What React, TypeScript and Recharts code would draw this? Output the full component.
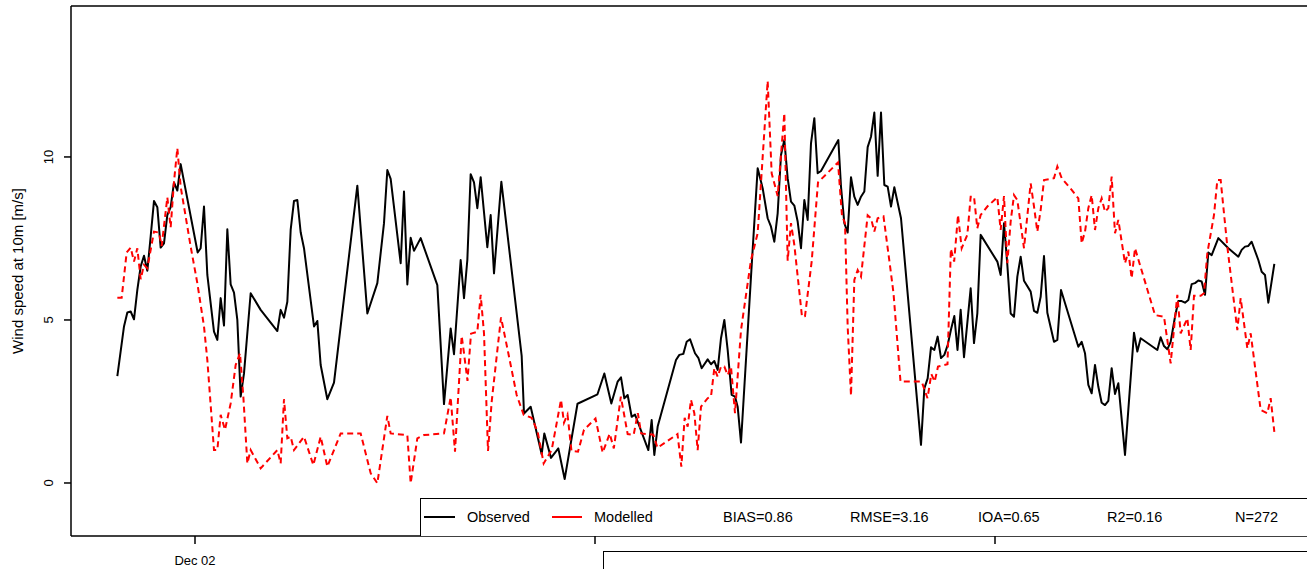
import { LineChart, Line, XAxis, YAxis, ReferenceLine } from 'recharts';

// hours after Dec 02 00:00 and wind speed (m/s)
const OBS_T = [
  -4.66, -4.26, -4.06, -3.86, -3.66, -3.46, -3.26, -3.06, -2.86, -2.66, -2.46, -2.26, -2.06, -1.86, -1.66, -1.46, -1.26, -1.06, -0.86,
  0.16, 0.34, 0.54, 0.74, 1.14, 1.34, 1.54, 1.74, 1.94, 2.14, 2.34, 2.54, 2.74, 2.94, 3.34, 3.94, 4.94, 5.14, 5.34, 5.54, 5.74, 5.94,
  6.14, 6.34, 6.54, 7.14, 7.34, 7.54, 7.94, 8.34, 9.74, 10.34, 10.94, 11.34, 11.54, 11.74, 12.34, 12.54, 12.74, 12.94, 13.14, 13.54,
  14.54, 14.94, 15.34, 15.54, 15.94, 16.14, 16.34, 16.54, 16.74, 16.94, 17.14, 17.54, 17.74, 17.94, 18.38, 19.6, 19.74, 20.14, 20.8,
  20.96, 21.36, 21.8, 22.18, 22.95, 24.15, 24.56, 24.98, 25.36, 25.56, 25.76, 25.96, 26.2, 26.4, 27.2, 27.4, 27.56, 27.76, 28.86,
  29.06, 29.3, 29.5, 29.7, 30.0, 30.2, 30.4, 30.76, 30.96, 31.16, 31.36, 31.56, 31.76, 31.96, 32.2, 32.4, 32.56, 32.76, 33.36, 33.76,
  34.06, 34.36, 34.56, 34.76, 34.96, 35.16, 35.36, 35.56, 35.76, 35.96, 36.16, 36.36, 36.56, 36.76, 36.96, 37.16, 37.36, 37.56, 38.6,
  38.76, 38.96, 39.16, 39.36, 39.56, 39.76, 39.96, 40.16, 40.36, 40.56, 40.76, 40.96, 41.16, 41.36, 41.56, 41.76, 41.96, 42.36, 43.56,
  43.76, 43.96, 44.16, 44.36, 44.56, 44.76, 44.96, 45.16, 45.36, 45.56, 45.75, 45.94, 46.14, 46.54, 46.74, 46.94, 47.14, 48.14, 48.34,
  48.54, 48.74, 48.94, 49.14, 49.34, 49.54, 49.74, 50.14, 50.34, 50.54, 50.74, 50.94, 51.14, 51.54, 51.74, 51.96, 53.0, 53.2, 53.4,
  53.6, 53.8, 54.0, 54.2, 54.4, 54.6, 54.8, 55.0, 55.2, 55.4, 55.8, 56.34, 56.54, 56.74, 57.74, 57.94, 58.14, 58.34, 58.54, 58.8, 59.0,
  59.2, 59.4, 59.6, 59.8, 60.0, 60.2, 60.4, 60.6, 60.8, 61.0, 61.4, 62.0, 62.6, 62.8, 63.0, 63.2, 63.4, 63.8, 64.0, 64.2, 64.4, 64.76,
];
const OBS_V = [
  3.28, 4.8, 5.23, 5.26, 5.02, 5.92, 6.64, 6.97, 6.51, 7.56, 8.65, 8.46, 7.22, 7.35, 8.22, 8.46, 9.22, 8.97, 9.78,
  7.07, 7.2, 8.48, 6.38, 4.64, 4.39, 5.67, 4.83, 7.78, 6.09, 5.84, 5.0, 2.65, 3.36, 5.82, 5.31, 4.66, 5.31, 5.07, 5.56, 7.76, 8.65,
  8.68, 7.69, 7.2, 4.8, 4.97, 3.62, 2.57, 3.08, 9.12, 5.2, 6.13, 7.97, 9.6, 9.33, 6.74, 8.94, 6.09, 7.52, 7.12, 7.51,
  6.07, 2.42, 4.74, 3.95, 6.84, 5.67, 6.84, 9.47, 9.22, 8.43, 9.38, 7.23, 8.22, 6.43, 9.24, 3.9, 2.13, 2.34, 0.88,
  1.52, 0.77, 1.06, 0.12, 2.43, 2.72, 3.36, 2.44, 3.11, 3.24, 2.6, 2.7, 2.03, 2.1, 1.01, 1.93, 0.86, 1.73, 3.77,
  3.93, 3.96, 4.33, 4.41, 3.98, 3.84, 3.52, 3.79, 3.64, 3.74, 3.47, 4.44, 5.0, 4.08, 2.7, 2.65, 2.34, 1.24, 6.33, 9.65,
  9.04, 8.12, 7.86, 7.4, 8.27, 10.06, 10.52, 9.35, 8.63, 8.51, 8.02, 7.2, 8.68, 8.07, 10.42, 11.19, 9.5, 9.57, 10.52,
  9.09, 7.97, 7.68, 9.38, 8.78, 8.53, 8.78, 8.94, 10.3, 10.62, 11.36, 9.42, 11.36, 9.14, 9.09, 8.48, 9.07, 8.12, 1.17,
  2.9, 3.21, 4.16, 4.08, 4.49, 3.83, 3.93, 4.23, 4.71, 5.12, 4.08, 5.31, 3.86, 5.97, 4.29, 5.2, 7.61, 6.79, 6.38,
  7.97, 6.69, 5.2, 5.1, 6.33, 6.94, 6.2, 5.87, 5.28, 5.22, 5.71, 6.96, 5.22, 4.33, 4.39, 5.92, 4.18, 4.33, 3.98,
  3.01, 2.75, 3.62, 2.95, 2.46, 2.39, 2.52, 3.52, 2.73, 3.06, 0.86, 4.61, 4.03, 4.44, 4.08, 4.47, 4.2, 4.1, 4.33, 5.1, 5.58,
  5.58, 5.53, 5.61, 6.1, 6.13, 6.21, 6.18, 5.77, 7.07, 6.99, 7.51, 7.2, 6.94, 7.15, 7.25, 7.27, 7.4, 6.84, 6.48, 6.38, 5.53, 6.72,
];

const MOD_T = [
  -4.66, -4.4, -4.1, -3.86, -3.66, -3.46, -3.26, -3.06, -2.86, -2.46, -2.16, -2.0, -1.66, -1.46, -1.26, -1.06, -0.86, -0.26,
  0.14, 0.54, 0.74, 1.14, 1.34, 1.54, 1.8, 2.14, 2.44, 2.7, 2.9, 3.14, 3.34, 3.94, 4.94, 5.14, 5.34, 5.54, 5.74, 5.94, 6.54,
  7.1, 7.54, 7.94, 8.74, 9.94, 10.54, 10.94, 11.54, 11.74, 12.74, 12.94, 13.34, 13.74, 14.94, 15.34, 15.6, 16.0, 16.14, 16.35,
  16.56, 16.94, 17.14, 17.34, 17.58, 17.8, 18.36, 18.8, 19.3, 19.72, 20.2, 20.56, 20.92, 21.4, 21.96, 22.14, 22.35, 22.59, 22.98,
  23.34, 24.03, 24.46, 24.88, 25.13, 25.55, 25.96, 26.32, 26.57, 26.77, 27.5, 27.75, 28.95, 29.18, 29.38, 29.56, 29.76, 29.96,
  30.16, 30.36, 30.76, 30.96, 31.16, 31.36, 31.56, 31.76, 31.96, 32.16, 32.4, 32.76, 33.36, 33.76, 34.36, 34.6, 34.96, 35.36,
  35.56, 35.76, 35.96, 36.42, 36.6, 37.0, 37.38, 38.58, 38.82, 39.0, 39.16, 39.36, 39.56, 39.76, 39.96, 40.36, 40.56, 40.76,
  40.96, 41.31, 41.76, 41.91, 42.33, 43.36, 43.6, 43.95, 44.18, 44.38, 44.58, 45.15, 45.35, 45.55, 45.78, 46.0, 46.34, 46.54,
  46.74, 46.94, 47.14, 47.54, 48.14, 48.34, 48.54, 48.74, 48.94, 49.14, 49.34, 49.74, 50.14, 50.34, 50.54, 50.74, 50.94, 51.54,
  51.74, 52.0, 52.6, 53.0, 53.2, 53.4, 53.6, 53.8, 54.0, 54.2, 54.4, 54.6, 54.8, 55.0, 55.2, 55.4, 55.8, 56.0, 56.2, 56.4, 57.6,
  58.14, 58.54, 58.94, 59.14, 59.54, 59.74, 59.94, 60.34, 60.54, 60.74, 61.14, 61.34, 61.54, 61.94, 62.54, 62.74, 63.14, 63.34,
  63.94, 64.34, 64.54, 64.76,
];
const MOD_V = [
  5.68, 5.68, 7.07, 7.22, 6.79, 7.2, 6.25, 6.69, 6.59, 7.71, 7.68, 7.27, 8.76, 7.84, 9.24, 10.27, 9.09, 7.25,
  6.13, 4.8, 3.77, 1.01, 1.01, 2.09, 1.63, 2.44, 3.62, 3.98, 2.65, 0.6, 1.01, 0.45, 1.01, 0.6, 2.57, 1.37, 1.42, 1.01, 1.42,
  0.55, 1.42, 0.5, 1.52, 1.52, 0.3, -0.01, 2.06, 1.52, 1.47, -0.01, 1.37, 1.47, 1.52, 2.63, 0.96, 4.51, 3.98, 3.13,
  4.58, 4.64, 5.77, 4.59, 0.98, 2.49, 5.08, 3.98, 2.7, 2.09, 2.0, 1.57, 0.6, 1.01, 2.55, 1.85, 2.1, 0.98, 0.96,
  1.63, 1.98, 0.93, 1.51, 1.06, 2.65, 1.5, 1.48, 2.14, 1.52, 1.48, 1.08, 1.5, 0.5, 2.0, 1.73, 2.55, 2.14,
  1.01, 2.34, 2.6, 2.65, 3.52, 3.26, 3.57, 3.57, 3.31, 3.57, 2.14, 4.69, 6.84, 7.66, 12.33, 9.5, 8.8, 11.34,
  6.82, 7.97, 7.3, 5.1, 5.12, 6.79, 9.22, 9.83, 8.2, 7.97, 4.8, 2.68, 6.23, 6.53, 6.33, 8.21, 8.12, 7.71,
  8.12, 8.18, 6.43, 5.82, 3.11, 3.11, 3.11, 2.6, 3.34, 3.11, 3.57, 3.64, 7.18, 6.79, 8.22, 7.2, 7.61, 8.78,
  8.78, 7.81, 8.22, 8.48, 8.76, 7.76, 8.8, 6.74, 8.02, 8.83, 8.68, 7.2, 9.19, 8.48, 7.71, 8.37, 9.29, 9.35,
  9.71, 9.35, 8.99, 8.73, 7.35, 7.71, 8.43, 8.83, 7.76, 8.43, 8.73, 8.32, 8.43, 9.4, 7.66, 8.07, 6.74, 7.1, 6.28, 7.2, 5.15,
  5.1, 3.67, 5.77, 4.59, 5.05, 4.08, 5.74, 5.74, 5.82, 7.05, 8.22, 9.29, 9.29, 7.25, 4.69, 5.67, 4.13, 4.59,
  2.24, 2.14, 2.6, 1.57,
];

const X_TICKS = [0, 24, 48];
const X_TICK_LABELS = ['Dec 02', '', ''];
const Y_TICKS = [0, 5, 10];
const SERIES_NAMES = ['Observed', 'Modelled'];
const STATS = ['BIAS=0.86', 'RMSE=3.16', 'IOA=0.65', 'R2=0.16', 'N=272'];

const X_DOMAIN: [number, number] = [-7.44, 66.72];
const Y_DOMAIN: [number, number] = [-1.626, 14.63];
const FONT = '"Liberation Sans", Arial, Helvetica, sans-serif';

const observed = OBS_T.map((t, i) => ({ t, v: OBS_V[i] }));
const modelled = MOD_T.map((t, i) => ({ t, v: MOD_V[i] }));

const YTick = ({ x, y, payload }: any) => (
  <text x={x - 11} y={y} transform={`rotate(-90 ${x - 11} ${y})`} textAnchor="middle" fontSize={13} fill="#000" fontFamily={FONT}>
    {payload.value}
  </text>
);

const XTick = ({ x, y, payload }: any) => {
  const label = X_TICK_LABELS[X_TICKS.indexOf(payload.value)];
  return (
    <text x={x} y={y + 21} textAnchor="middle" fontSize={13} fill="#000" fontFamily={FONT}>
      {label}
    </text>
  );
};

const YLabel = ({ viewBox }: any) => {
  const cx = 23;
  const cy = viewBox.y + viewBox.height / 2;
  return (
    <text x={cx} y={cy} transform={`rotate(-90 ${cx} ${cy})`} textAnchor="middle" fontSize={15} fill="#000" fontFamily={FONT}>
      Wind speed at 10m [m/s]
    </text>
  );
};

export default function App() {
  const statLeft = [302, 429, 557, 686, 814];
  return (
    <div style={{ position: 'absolute', left: 0, top: 0, width: 1307, height: 569, background: '#fff', overflow: 'hidden', fontFamily: FONT }}>
      <LineChart width={1307} height={569} margin={{ top: 6, right: 0, bottom: 0, left: 0 }}>
        <XAxis
          type="number"
          dataKey="t"
          domain={X_DOMAIN}
          allowDataOverflow
          ticks={X_TICKS}
          tick={<XTick />}
          tickSize={8}
          tickMargin={0}
          height={33}
          stroke="#000"
          strokeWidth={1.5}
        />
        <YAxis
          type="number"
          dataKey="v"
          domain={Y_DOMAIN}
          allowDataOverflow
          ticks={Y_TICKS}
          tick={<YTick />}
          tickSize={7}
          tickMargin={0}
          width={71}
          stroke="#000"
          strokeWidth={1.5}
          label={{ content: <YLabel /> }}
        />
        <ReferenceLine y={Y_DOMAIN[1]} stroke="#000" strokeWidth={1.5} />
        <Line
          data={observed}
          dataKey="v"
          name={SERIES_NAMES[0]}
          stroke="#000"
          strokeWidth={2}
          dot={false}
          strokeLinejoin="round"
          isAnimationActive={false}
        />
        <Line
          data={modelled}
          dataKey="v"
          name={SERIES_NAMES[1]}
          stroke="#ff0000"
          strokeWidth={2}
          strokeDasharray="6 4"
          dot={false}
          isAnimationActive={false}
        />
      </LineChart>

      {/* key + statistics strip */}
      <div
        style={{
          position: 'absolute',
          left: 420,
          top: 498,
          width: 887,
          height: 38,
          background: '#fff',
          borderTop: '1.5px solid #000',
          borderLeft: '1.5px solid #000',
          boxSizing: 'border-box',
          fontSize: 14.5,
          color: '#000',
        }}
      >
        <div style={{ position: 'absolute', left: 3, top: 17, width: 31, height: 2, background: '#000' }} />
        <span style={{ position: 'absolute', left: 46, top: 0, lineHeight: '36px' }}>{SERIES_NAMES[0]}</span>
        <div style={{ position: 'absolute', left: 131, top: 17, width: 30, height: 2, background: '#ff0000' }} />
        <span style={{ position: 'absolute', left: 173, top: 0, lineHeight: '36px' }}>{SERIES_NAMES[1]}</span>
        {STATS.map((s, i) => (
          <span key={s} style={{ position: 'absolute', left: statLeft[i], top: 0, lineHeight: '36px' }}>
            {s}
          </span>
        ))}
      </div>

      {/* frame of the panel below */}
      <div
        style={{
          position: 'absolute',
          left: 603,
          top: 551,
          width: 704,
          height: 18,
          background: '#fff',
          borderTop: '1.5px solid #000',
          borderLeft: '1.5px solid #000',
          boxSizing: 'border-box',
        }}
      />
    </div>
  );
}
